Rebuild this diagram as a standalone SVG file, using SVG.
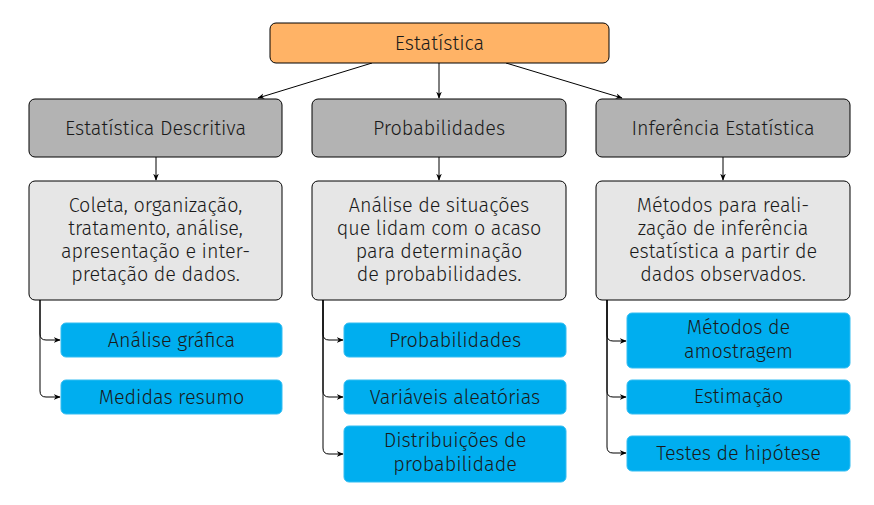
<svg xmlns="http://www.w3.org/2000/svg" width="874" height="505" viewBox="0 0 874 505">
<defs>
<marker id="ah" viewBox="0 0 10 10" refX="9" refY="5" markerWidth="7" markerHeight="7" orient="auto" markerUnits="userSpaceOnUse"><path d="M0,1 L10,5 L0,9 L3,5 Z" fill="#000"/></marker>
</defs>
<style>
text{font-family:"Fira Sans",Roboto,"Noto Sans",sans-serif;font-size:19.8px;font-weight:300;fill:#1a1a1a;text-anchor:middle}
.top{fill:#FFB366;stroke:#000;stroke-width:1}
.l2{fill:#B3B3B3;stroke:#000;stroke-width:1}
.l3{fill:#E6E6E6;stroke:#000;stroke-width:1}
.leaf{fill:#00AEEF;stroke:#33BDF2;stroke-width:1}
.c{fill:none;stroke:#000;stroke-width:1;marker-end:url(#ah)}
</style>
<g id="connectors">
<path class="c" d="M372,63 L258,98"/>
<path class="c" d="M439,63 L439,98"/>
<path class="c" d="M506,63 L622,98"/>
<path class="c" d="M156,157 L156,180"/>
<path class="c" d="M439,157 L439,180"/>
<path class="c" d="M723,157 L723,180"/>
<path class="c" d="M40,300 L40,334 Q40,340 46,340 L60,340"/>
<path class="c" d="M40,300 L40,391 Q40,397 46,397 L60,397"/>
<path class="c" d="M323,300 L323,334 Q323,340 329,340 L343,340"/>
<path class="c" d="M323,300 L323,391 Q323,397 329,397 L343,397"/>
<path class="c" d="M323,300 L323,448 Q323,454 329,454 L343,454"/>
<path class="c" d="M607,300 L607,335 Q607,341 613,341 L626,341"/>
<path class="c" d="M607,300 L607,391 Q607,397 613,397 L626,397"/>
<path class="c" d="M607,300 L607,447 Q607,453 613,453 L626,453"/>
</g>
<g id="n-estatistica"><rect class="top" x="270" y="23" width="339" height="40" rx="6"/><text x="439.5" y="50">Estatística</text></g>
<g id="n-descritiva"><rect class="l2" x="29" y="99" width="253" height="58" rx="6"/><text x="155.5" y="135">Estatística Descritiva</text></g>
<g id="n-prob"><rect class="l2" x="312" y="99" width="254" height="58" rx="6"/><text x="439" y="135">Probabilidades</text></g>
<g id="n-inferencia"><rect class="l2" x="596" y="99" width="254" height="58" rx="6"/><text x="723" y="135">Inferência Estatística</text></g>
<g id="n-desc-def"><rect class="l3" x="29" y="181" width="253" height="119" rx="6"/>
<text x="155.5" y="212">Coleta, organização,</text>
<text x="155.5" y="235">tratamento, análise,</text>
<text x="155.5" y="258">apresentação e inter-</text>
<text x="155.5" y="281">pretação de dados.</text></g>
<g id="n-prob-def"><rect class="l3" x="312" y="181" width="254" height="119" rx="6"/>
<text x="439" y="212">Análise de situações</text>
<text x="439" y="235">que lidam com o acaso</text>
<text x="439" y="258">para determinação</text>
<text x="439" y="281">de probabilidades.</text></g>
<g id="n-inf-def"><rect class="l3" x="596" y="181" width="254" height="119" rx="6"/>
<text x="723" y="212">Métodos para reali-</text>
<text x="723" y="235">zação de inferência</text>
<text x="723" y="258">estatística a partir de</text>
<text x="723" y="281">dados observados.</text></g>
<g id="n-grafica"><rect class="leaf" x="61" y="323" width="221" height="34" rx="5"/><text x="171.5" y="347">Análise gráfica</text></g>
<g id="n-medidas"><rect class="leaf" x="61" y="380" width="221" height="34" rx="5"/><text x="171.5" y="404">Medidas resumo</text></g>
<g id="n-probs"><rect class="leaf" x="344" y="323" width="222" height="34" rx="5"/><text x="455" y="347">Probabilidades</text></g>
<g id="n-variaveis"><rect class="leaf" x="344" y="380" width="222" height="34" rx="5"/><text x="455" y="404">Variáveis aleatórias</text></g>
<g id="n-distrib"><rect class="leaf" x="344" y="426" width="222" height="56" rx="5"/><text x="455" y="447">Distribuições de</text><text x="455" y="471">probabilidade</text></g>
<g id="n-amostragem"><rect class="leaf" x="627" y="313" width="223" height="55" rx="5"/><text x="738.5" y="334">Métodos de</text><text x="738.5" y="358">amostragem</text></g>
<g id="n-estimacao"><rect class="leaf" x="627" y="380" width="223" height="34" rx="5"/><text x="738.5" y="403">Estimação</text></g>
<g id="n-testes"><rect class="leaf" x="627" y="436" width="223" height="35" rx="5"/><text x="738.5" y="460">Testes de hipótese</text></g>
</svg>
